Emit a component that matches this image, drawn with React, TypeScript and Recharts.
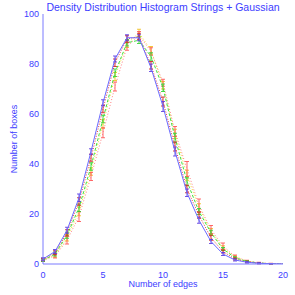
import React from 'react';
import { LineChart, Line, XAxis, YAxis, ErrorBar } from 'recharts';

const edges = [0, 1, 2, 3, 4, 5, 6, 7, 8, 9, 10, 11, 12, 13, 14, 15, 16, 17, 18, 19, 20];
const blueVals = [2, 5, 13.5, 26.5, 45, 64.5, 82, 90.5, 90.5, 78.5, 63, 45, 28.5, 17.5, 9, 4, 1.6, 0.7, 0.3, 0.1, 0];
const blueErr = [0.5, 0.8, 1.2, 1.5, 1.1, 1.2, 1.2, 1.2, 1.2, 1.5, 2, 1.8, 1.5, 1.2, 0.8, 0.6, 0.4, 0.3, 0.2, 0.1, 0];
const redVals = [1.8, 4.5, 12.5, 25, 42.5, 62, 80.5, 90, 91, 79.5, 65, 47, 30, 19.5, 10.5, 5, 2, 0.8, 0.3, 0.1, 0];
const redErr = [0.5, 0.8, 1.2, 1.5, 1.4, 1.5, 1.5, 1.3, 1.3, 1.5, 1.8, 1.8, 1.5, 1.2, 1, 0.6, 0.4, 0.3, 0.2, 0.1, 0];
const greenVals = [1.5, 4, 11.5, 22.5, 39, 58, 76.5, 88.5, 89.5, 83, 70.5, 50.5, 33, 21, 12.5, 6, 2.5, 1, 0.4, 0.1, 0];
const greenErr = [0.5, 0.8, 1.2, 1.5, 1.5, 1.5, 1.5, 1.3, 1.3, 1.5, 1.5, 1.8, 1.5, 1.2, 1, 0.6, 0.4, 0.3, 0.2, 0.1, 0];
const yellowVals = [1.5, 3.5, 10.5, 21, 37, 56, 75, 88, 92.5, 85.5, 71.5, 52, 35.5, 22.5, 13, 6.5, 2.8, 1.1, 0.4, 0.1, 0];
const yellowErr = [0.5, 0.8, 1.3, 1.7, 1.5, 1.7, 1.6, 1.4, 1.4, 1.5, 1.5, 1.9, 2, 1.6, 1.2, 0.8, 0.5, 0.3, 0.2, 0.1, 0];
const pinkVals = [1.5, 3.2, 9.5, 19, 35, 52.5, 71, 87, 91.5, 85, 72.5, 53, 38, 23.5, 13.8, 7.2, 3, 1.2, 0.5, 0.2, 0];
const pinkErr = [0.5, 0.8, 1.5, 2, 1.6, 2, 1.8, 1.5, 1.5, 1.5, 1.4, 2, 3, 2.5, 1.6, 1.2, 0.6, 0.3, 0.2, 0.1, 0];

const xMajor = [0, 5, 10, 15, 20];
const xMinor = edges;
const yMajor = [0, 20, 40, 60, 80, 100];
const yMinor = [0, 5, 10, 15, 20, 25, 30, 35, 40, 45, 50, 55, 60, 65, 70, 75, 80, 85, 90, 95, 100];

const title = 'Density Distribution Histogram Strings + Gaussian';
const xTitle = 'Number of edges';
const yTitle = 'Number of boxes';

const data = edges.map((e, i) => ({
  x: e,
  blue: blueVals[i], blueErr: blueErr[i],
  red: redVals[i], redErr: redErr[i],
  green: greenVals[i], greenErr: greenErr[i],
  yellow: yellowVals[i], yellowErr: yellowErr[i],
  pink: pinkVals[i], pinkErr: pinkErr[i],
}));

const TEXT = '#3c3cff';
const AXIS = '#7a7aff';
const FONT = '"Liberation Sans", Arial, sans-serif';

const series = [
  { key: 'yellow', color: '#f2e030', dash: '1 2', err: '#f0c020' },
  { key: 'pink', color: '#ff8080', dash: '1 2', err: '#ff5050' },
  { key: 'green', color: '#40e040', dash: '3 2', err: '#30d030' },
  { key: 'red', color: '#e04040', dash: '1 1.5', err: '#d02020' },
  { key: 'blue', color: '#6a6aff', dash: undefined as string | undefined, err: '#5a3ae0' },
];

export default function App() {
  return (
    <div style={{ position: 'fixed', left: 0, top: 0, width: 295, height: 295, background: '#fff', fontFamily: FONT }}>
      <div style={{ position: 'absolute', left: 43, width: 240, top: 1, textAlign: 'center', fontSize: 10.5, color: TEXT, fontFamily: FONT, whiteSpace: 'nowrap' }}>
        {title}
      </div>
      <LineChart width={295} height={295} data={data} margin={{ top: 14, right: 12, left: 0, bottom: 0 }}>
        <XAxis xAxisId="x" dataKey="x" type="number" domain={[0, 20]} allowDataOverflow ticks={xMajor} interval={0}
          tickLine={false} tickSize={0} tickMargin={8} height={31}
          axisLine={{ stroke: AXIS }} tick={{ fill: TEXT, fontSize: 9, fontFamily: FONT }}
          label={{ value: xTitle, position: 'insideBottom', offset: 8, fill: TEXT, fontSize: 9, fontFamily: FONT }} />
        <XAxis xAxisId="xb1" dataKey="x" type="number" domain={[0, 20]} allowDataOverflow ticks={xMajor} interval={0}
          orientation="bottom" mirror tick={false} tickSize={6} axisLine={false} tickLine={{ stroke: AXIS }} height={0} />
        <XAxis xAxisId="xb2" dataKey="x" type="number" domain={[0, 20]} allowDataOverflow ticks={xMinor} interval={0}
          orientation="bottom" mirror tick={false} tickSize={3} axisLine={false} tickLine={{ stroke: AXIS }} height={0} />
        <XAxis xAxisId="xt1" dataKey="x" type="number" domain={[0, 20]} allowDataOverflow ticks={xMajor} interval={0}
          orientation="top" mirror tick={false} tickSize={6} axisLine={{ stroke: AXIS }} tickLine={{ stroke: AXIS }} height={0} />
        <XAxis xAxisId="xt2" dataKey="x" type="number" domain={[0, 20]} allowDataOverflow ticks={xMinor} interval={0}
          orientation="top" mirror tick={false} tickSize={3} axisLine={false} tickLine={{ stroke: AXIS }} height={0} />

        <YAxis yAxisId="y" type="number" domain={[0, 100]} allowDataOverflow ticks={yMajor} interval={0}
          tickLine={false} tickSize={0} tickMargin={4} width={43}
          axisLine={{ stroke: AXIS }} tick={{ fill: TEXT, fontSize: 9, fontFamily: FONT }}
          label={{ value: yTitle, angle: -90, position: 'insideLeft', offset: 14, fill: TEXT, fontSize: 9, fontFamily: FONT, style: { textAnchor: 'middle' } }} />
        <YAxis yAxisId="yl1" type="number" domain={[0, 100]} allowDataOverflow ticks={yMajor} interval={0}
          orientation="left" mirror tick={false} tickSize={6} axisLine={false} tickLine={{ stroke: AXIS }} width={0} />
        <YAxis yAxisId="yl2" type="number" domain={[0, 100]} allowDataOverflow ticks={yMinor} interval={0}
          orientation="left" mirror tick={false} tickSize={3} axisLine={false} tickLine={{ stroke: AXIS }} width={0} />
        <YAxis yAxisId="yr1" type="number" domain={[0, 100]} allowDataOverflow ticks={yMajor} interval={0}
          orientation="right" mirror tick={false} tickSize={6} axisLine={{ stroke: AXIS }} tickLine={{ stroke: AXIS }} width={0} />
        <YAxis yAxisId="yr2" type="number" domain={[0, 100]} allowDataOverflow ticks={yMinor} interval={0}
          orientation="right" mirror tick={false} tickSize={3} axisLine={false} tickLine={{ stroke: AXIS }} width={0} />

        {series.map((s) => (
          <Line key={s.key} xAxisId="x" yAxisId="y" type="linear" dataKey={s.key} stroke={s.color}
            strokeWidth={1} strokeDasharray={s.dash} dot={false} activeDot={false} isAnimationActive={false}>
            <ErrorBar dataKey={`${s.key}Err`} direction="y" width={2} stroke={s.err} strokeWidth={1} strokeOpacity={0.85} isAnimationActive={false} />
          </Line>
        ))}
      </LineChart>
    </div>
  );
}
